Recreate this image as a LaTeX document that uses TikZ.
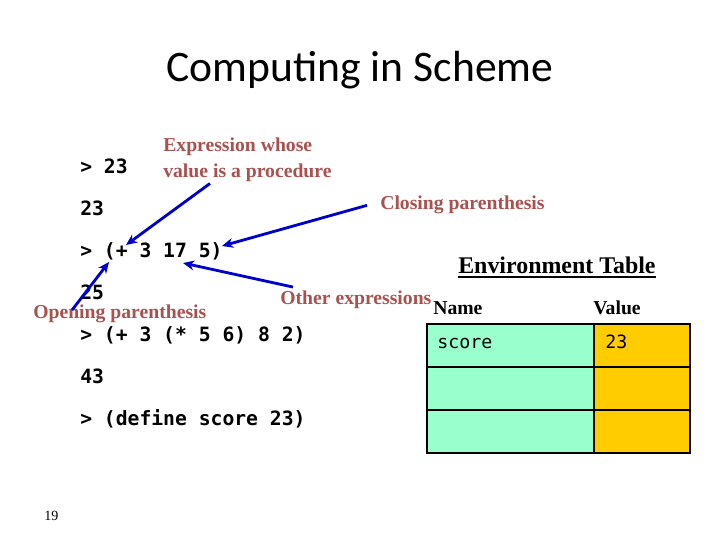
\documentclass[tikz,border=0pt]{standalone}
\usepackage{fontspec}
\setmainfont{Liberation Serif}
\setmonofont{DejaVu Sans Mono}
\newfontfamily\titlefont{Carlito}
\usetikzlibrary{arrows.meta,calc}

\definecolor{labelred}{RGB}{168,82,80}
\definecolor{arrowblue}{RGB}{0,0,204}
\definecolor{namegreen}{RGB}{153,255,204}
\definecolor{valueyellow}{RGB}{255,204,0}

\tikzset{
  code/.style={anchor=base west,inner sep=0pt,font=\fontsize{14}{16}\selectfont\ttfamily\bfseries},
  remark/.style={anchor=base west,inner sep=0pt,align=left,text=labelred,font=\fontsize{14}{17.8}\selectfont\bfseries},
  heading/.style={anchor=base west,inner sep=0pt,font=\fontsize{14}{16}\selectfont\bfseries},
  cell/.style={anchor=base west,inner sep=0pt,font=\fontsize{13}{15}\selectfont\ttfamily},
  pointer/.style={->,draw=arrowblue,line width=2pt},
}

\begin{document}
\begin{tikzpicture}[x=0.025cm,y=-0.025cm,>={Stealth[length=8pt,width=7pt]}]
  \useasboundingbox (0,0) rectangle (720,540);

  \node[font=\fontsize{31}{36}\selectfont\titlefont] (title) at (360,70) {Computing in Scheme};

  % the session
  \node[code] (in1)  at (80,173) {> 23};
  \node[code] (out1) at (80,215) {23};
  \node[code] (in2)  at (80,257) {> (+ 3 17 5)};
  \node[code] (out2) at (80,299) {25};
  \node[code] (in3)  at (80,341) {> (+ 3 (* 5 6) 8 2)};
  \node[code] (out3) at (80,383) {43};
  \node[code] (in4)  at (80,425) {> (define score 23)};

  % remarks
  \node[remark] (proc)    at (163,177) {Expression whose\\value is a procedure};
  \node[remark] (closing) at (380,209) {Closing parenthesis};
  \node[remark] (others)  at (280,304) {Other expressions};
  \node[remark] (opening) at (33,318)  {Opening parenthesis};

  \coordinate (procTip)    at (126,245);
  \coordinate (closingTip) at (222,246);
  \coordinate (othersTip)  at (183,263);
  \coordinate (openingTip) at (109,262);

  \draw[pointer] ($(proc.south west)+(47,2)$) -- (procTip);
  \draw[pointer] ($(closing.west)+(-13,1)$) -- (closingTip);
  \draw[pointer] ($(others.north west)+(13,-3)$) -- (othersTip);
  \draw[pointer] ($(opening.north west)+(39,6)$) -- (openingTip);

  % environment table
  \node[heading,font=\fontsize{17}{20}\selectfont\bfseries] (envtitle) at (458,273) {Environment Table};
  \draw[line width=1pt] ($(envtitle.base west)+(0,4)$) -- ($(envtitle.base east)+(0,4)$);
  \node[heading] (namehead)  at (433,314) {Name};
  \node[heading] (valuehead) at (593,314) {Value};

  \fill[namegreen] (427,324) rectangle (594,453);
  \fill[valueyellow] (594,324) rectangle (690,453);
  \draw[line width=1.5pt] (427,324) rectangle (690,453);
  \draw[line width=1.5pt] (594,324) -- (594,453);
  \draw[line width=1.5pt] (427,367) -- (690,367);
  \draw[line width=1.5pt] (427,410) -- (690,410);

  \node[cell] (name1)  at (437,348) {score};
  \node[cell] (value1) at (605,348) {23};

  \node[anchor=base west,inner sep=0pt,font=\fontsize{10}{12}\selectfont] (slideno) at (44,520) {19};

\end{tikzpicture}
\end{document}
